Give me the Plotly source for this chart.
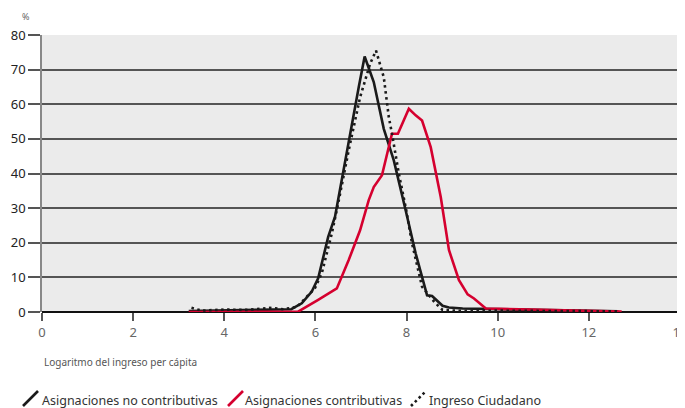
import plotly.graph_objects as go

# Asignaciones no contributivas
x_anc = [3.22, 4.0, 5.0, 5.47, 5.70, 5.92, 6.06, 6.28, 6.43, 6.73, 6.95, 7.08, 7.28, 7.50, 7.72, 7.98, 8.20, 8.45, 8.56, 8.79, 8.93, 9.23, 9.67, 10.5, 11.5, 12.65]
y_anc = [0.3, 0.4, 0.6, 0.8, 2.5, 5.9, 9.7, 21.7, 27.5, 49.6, 64.9, 73.8, 66.4, 52.9, 43.8, 29.4, 16.9, 4.8, 4.6, 1.8, 1.3, 1.0, 0.9, 0.7, 0.5, 0.2]

# Asignaciones contributivas
x_ac = [3.22, 4.0, 5.0, 5.62, 6.06, 6.47, 6.73, 6.98, 7.17, 7.28, 7.46, 7.68, 7.81, 8.05, 8.20, 8.34, 8.53, 8.75, 8.93, 9.15, 9.34, 9.48, 9.74, 10.5, 11.5, 12.72]
y_ac = [0.0, 0.0, 0.0, 0.1, 3.5, 6.8, 15.0, 23.6, 32.3, 36.1, 39.5, 51.5, 51.5, 58.7, 56.8, 55.3, 47.6, 33.2, 17.9, 9.2, 5.1, 3.9, 1.0, 0.8, 0.5, 0.1]

# Ingreso Ciudadano
x_ic = [3.28, 3.5, 4.0, 4.5, 5.0, 5.3, 5.6, 5.99, 6.14, 6.36, 6.50, 6.73, 6.98, 7.20, 7.33, 7.50, 7.61, 7.68, 7.83, 7.98, 8.12, 8.34, 8.63, 8.79, 9.23, 10.0, 11.0, 12.65]
y_ic = [1.2, 0.4, 0.7, 0.6, 1.2, 0.8, 1.5, 6.9, 11.2, 22.7, 31.4, 46.7, 62.0, 71.7, 75.5, 67.8, 56.3, 51.5, 40.0, 30.3, 19.8, 7.3, 2.6, 0.6, 0.3, 0.4, 0.3, 0.2]

series_names = ["Asignaciones no contributivas", "Asignaciones contributivas", "Ingreso Ciudadano"]
x_ticks = [0, 2, 4, 6, 8, 10, 12, 14]
y_ticks = [0, 10, 20, 30, 40, 50, 60, 70, 80]

BLACK = "#1a1a1a"
RED = "#d5002f"

fig = go.Figure()
fig.add_trace(go.Scatter(x=x_anc, y=y_anc, mode="lines", name=series_names[0],
                         line=dict(color=BLACK, width=2.6)))
fig.add_trace(go.Scatter(x=x_ac, y=y_ac, mode="lines", name=series_names[1],
                         line=dict(color=RED, width=2.6)))
fig.add_trace(go.Scatter(x=x_ic, y=y_ic, mode="lines", name=series_names[2],
                         line=dict(color=BLACK, width=2.6, dash="2.5px,3.5px")))

# layout geometry (figure pixels; page body adds 8px offset)
W, H = 677, 400
L, R, T, B = 34, 0, 27, 96
PW, PH = W - L - R, H - T - B


def px(xf):
    return (xf - L) / PW


def py(yf):
    return (H - B - yf) / PH


# custom legend with diagonal icons
leg_y = 392
items = [(15, 32, series_names[0], BLACK, "solid"),
         (220, 235, series_names[1], RED, "solid"),
         (403, 419, series_names[2], BLACK, "2.5px,3px")]
shapes = []
annotations = []
for x0, tx, name, col, dash in items:
    shapes.append(dict(type="line", xref="paper", yref="paper",
                       x0=px(x0), y0=py(leg_y + 6), x1=px(x0 + 15), y1=py(leg_y - 9),
                       line=dict(color=col, width=2.6, dash=dash)))
    annotations.append(dict(text=name, xref="paper", yref="paper", x=px(tx), y=py(leg_y),
                            xanchor="left", yanchor="middle", showarrow=False,
                            font=dict(size=12.5, color="#333333")))

annotations.append(dict(text="%", xref="paper", yref="paper", x=px(12), y=py(9),
                        xanchor="left", yanchor="middle", showarrow=False,
                        font=dict(size=9, color="#666666")))
annotations.append(dict(text="Logaritmo del ingreso per cápita", xref="paper", yref="paper",
                        x=px(34), y=py(354), xanchor="left", yanchor="middle", showarrow=False,
                        font=dict(size=10, color="#555555")))

fig.update_layout(
    width=W, height=H,
    margin=dict(l=L, r=R, t=T, b=B, autoexpand=False),
    paper_bgcolor="white",
    plot_bgcolor="#ebebeb",
    font=dict(family="Noto Sans", size=13, color="#333333"),
    showlegend=False,
    xaxis=dict(range=[0, 14.11], tickvals=x_ticks, ticktext=[str(v) for v in x_ticks],
               showgrid=False, zeroline=False, showline=False, automargin=False,
               ticks="outside", ticklen=8, tickcolor="#555555", tickwidth=1.5,
               ticklabeloverflow="allow",
               tickfont=dict(color="#666666", size=13)),
    yaxis=dict(range=[0, 80], tickvals=y_ticks, ticktext=[str(v) for v in y_ticks],
               showgrid=True, gridcolor="#555555", gridwidth=1.5, automargin=False,
               zeroline=True, zerolinecolor="#111111", zerolinewidth=1.5,
               showline=True, linecolor="#888888", linewidth=1.5,
               ticks="outside", ticklen=12, tickcolor="#555555", tickwidth=1.5,
               tickfont=dict(color="#222222", size=13)),
    shapes=shapes,
    annotations=annotations,
)

fig.write_html("out.html")
